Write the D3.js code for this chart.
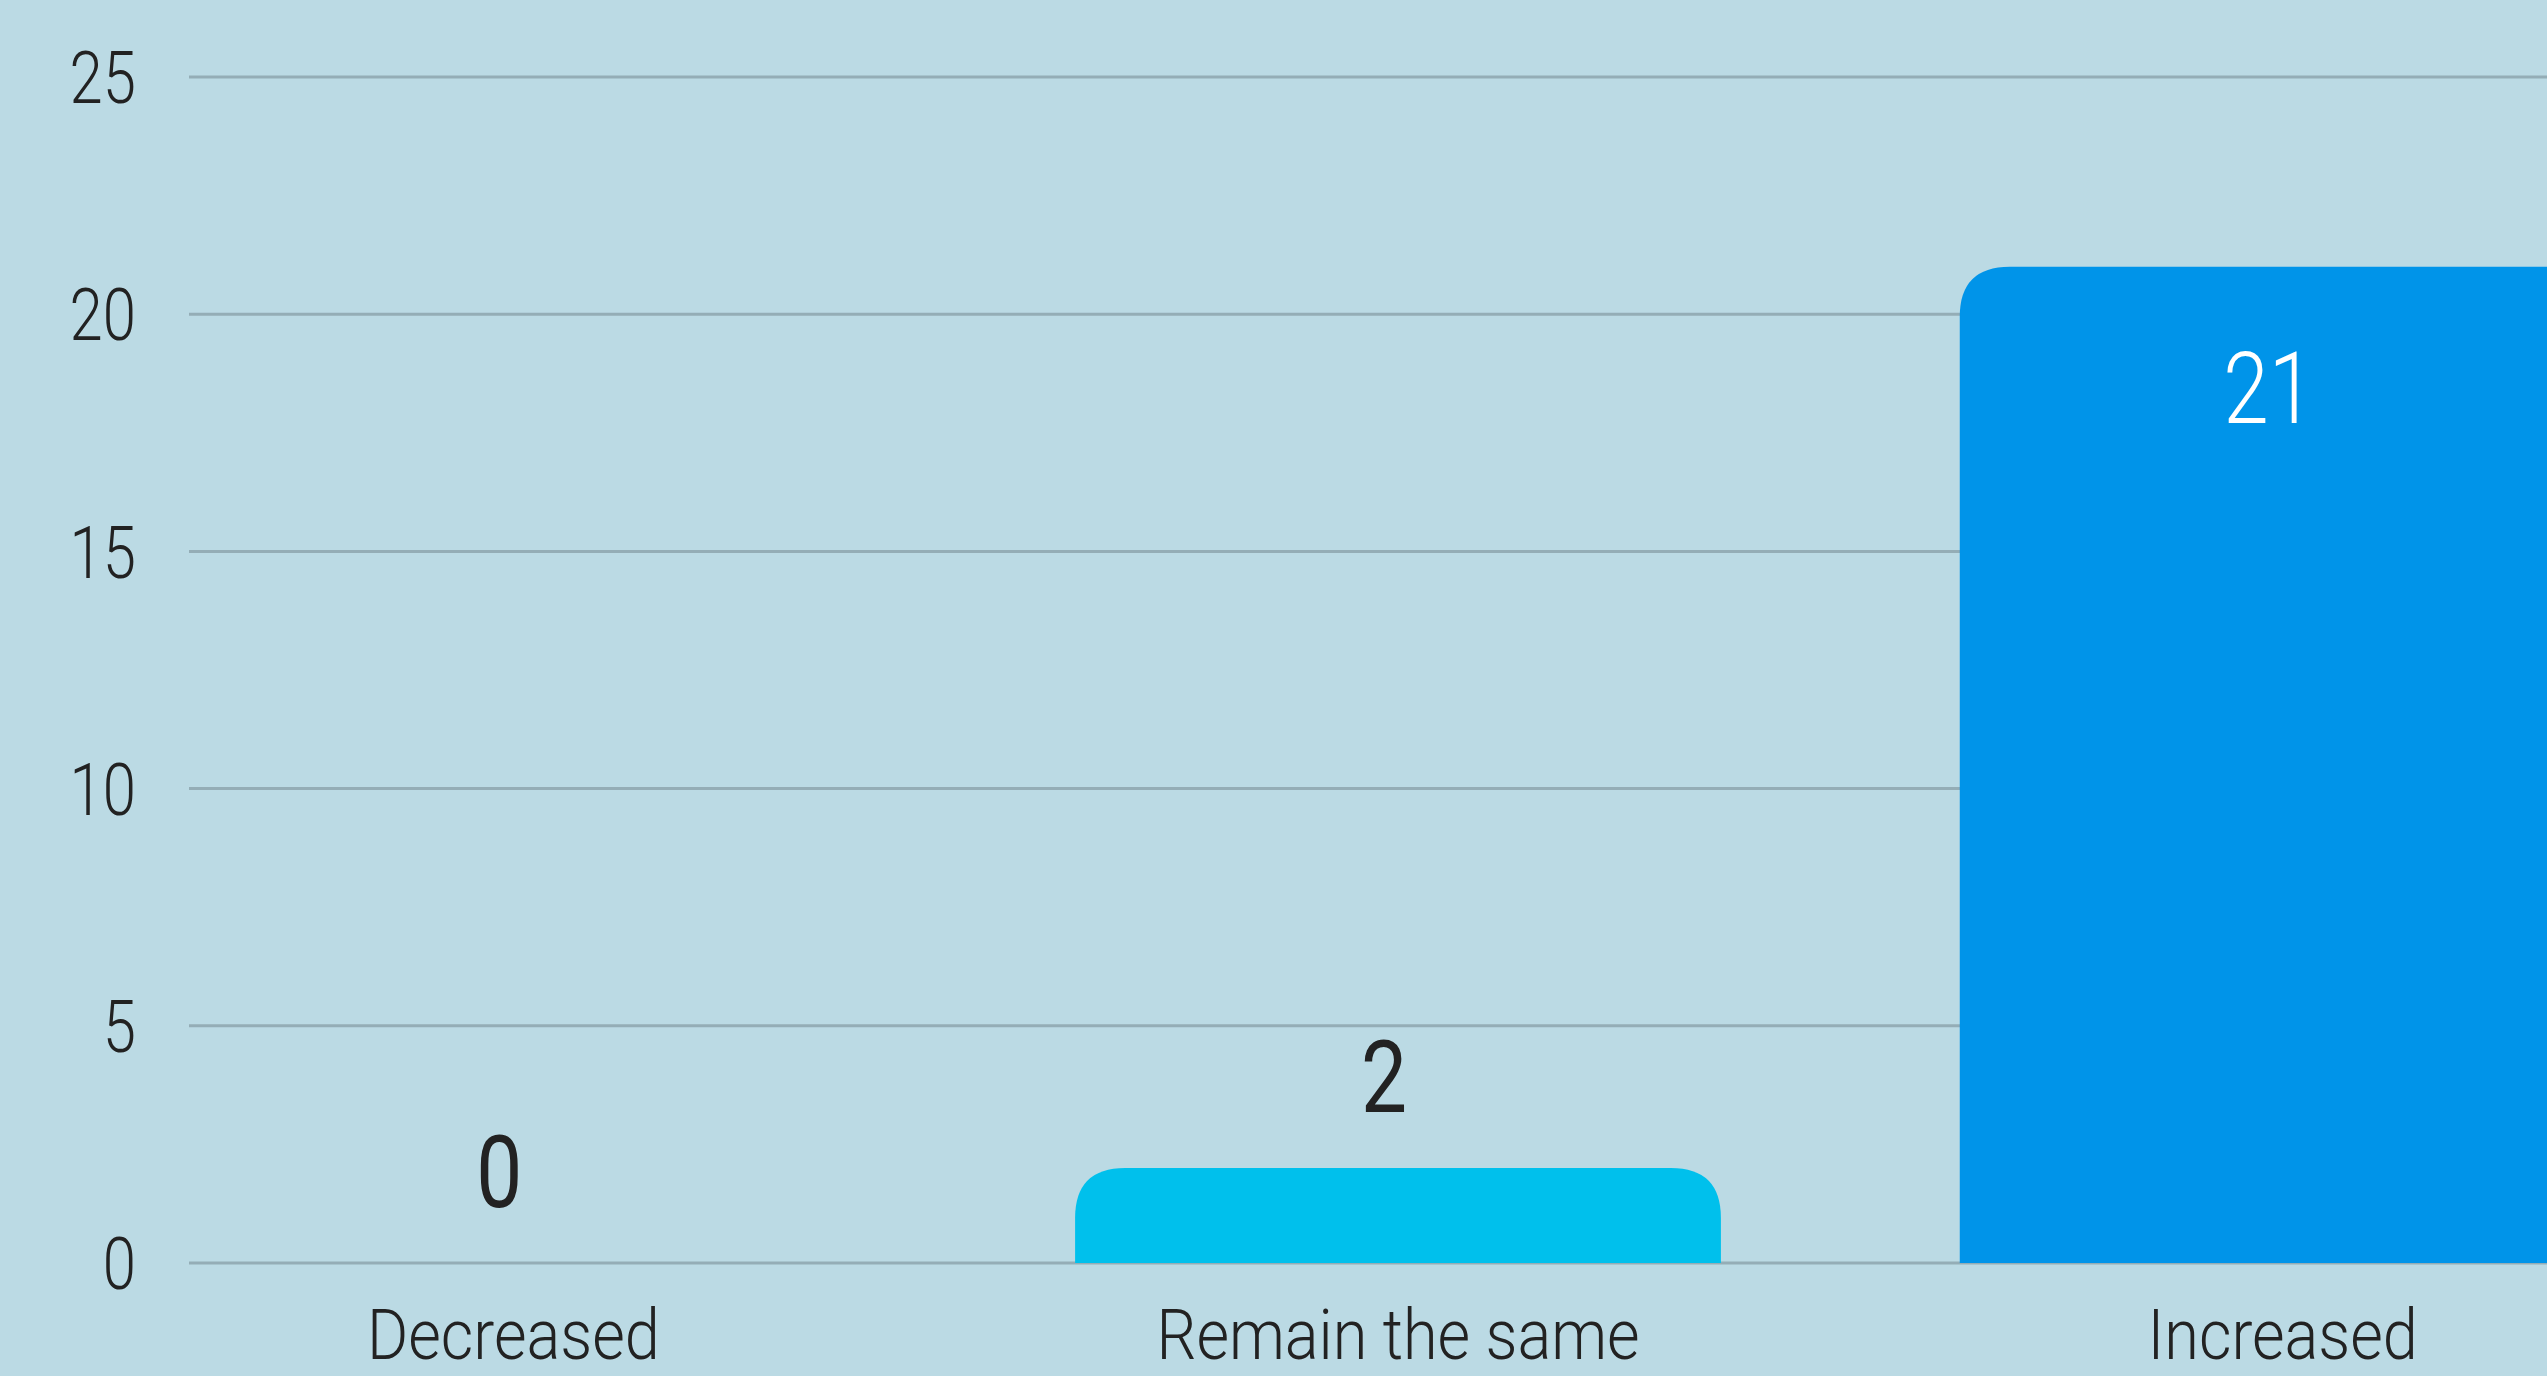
<!DOCTYPE html>
<html>
<head>
<meta charset="utf-8">
<script src="https://cdn.jsdelivr.net/npm/d3@7"></script>
<style>
  html, body { margin: 0; padding: 0; background: #bbdae4; overflow: hidden; }
  svg { display: block; }
  text { font-family: Roboto, "Noto Sans", sans-serif; }
</style>
</head>
<body>
<div id="chart"></div>
<script>
// data
const categories = ["Decreased", "Remain the same", "Increased"];
const counts = [0, 2, 21];
const barColors = ["#00c0ec", "#00c0ec", "#0094e9"];
const yTicks = [0, 5, 10, 15, 20, 25];

const width = 2547;
const height = 1376;
const squeeze = 0.82; // the original font is a narrow DIN-like face

const svg = d3.select("#chart")
    .append("svg")
    .attr("width", width)
    .attr("height", height);

svg.append("rect")
    .attr("width", width)
    .attr("height", height)
    .attr("fill", "#bbdae4");

// scales -- the plot runs past the right edge, like the original
const x = d3.scaleBand()
    .domain(categories)
    .range([71, 2725])
    .paddingInner(0.27)
    .paddingOuter(0.135);

const y = d3.scaleLinear()
    .domain([0, 25])
    .range([1263, 77]);

// gridlines
svg.append("g")
    .selectAll("line")
    .data(yTicks)
    .join("line")
    .attr("x1", 189)
    .attr("x2", width)
    .attr("y1", d => y(d))
    .attr("y2", d => y(d))
    .attr("stroke", "#94adb6")
    .attr("stroke-width", 3);

// y tick labels
svg.append("g")
    .selectAll("text")
    .data(yTicks)
    .join("text")
    .attr("transform", d => `translate(136,${y(d)}) scale(${squeeze},1)`)
    .attr("dy", "0.36em")
    .attr("text-anchor", "end")
    .attr("font-size", 73)
    .attr("font-weight", 300)
    .attr("fill", "#222")
    .text(d => d);

// bars with rounded top corners
const r = 50;
function barPath(d, i) {
    const x0 = x(categories[i]);
    const x1 = x0 + x.bandwidth();
    const yb = y(0);
    const yt = y(d);
    const h = yb - yt;
    if (h <= 0) return "";
    const rr = Math.min(r, h, x.bandwidth() / 2);
    return `M${x0},${yb} L${x0},${yt + rr} Q${x0},${yt} ${x0 + rr},${yt} ` +
        `L${x1 - rr},${yt} Q${x1},${yt} ${x1},${yt + rr} L${x1},${yb} Z`;
}

svg.append("g")
    .selectAll("path")
    .data(counts)
    .join("path")
    .attr("d", barPath)
    .attr("fill", (d, i) => barColors[i]);

// value labels: above small bars, inside the tall one
svg.append("g")
    .selectAll("text")
    .data(counts)
    .join("text")
    .attr("transform", (d, i) => {
        const cx = x(categories[i]) + x.bandwidth() / 2 - 14;
        const cy = d > 10 ? y(d) + 156 : y(d) - 56;
        return `translate(${cx},${cy}) scale(${squeeze},1)`;
    })
    .attr("text-anchor", "middle")
    .attr("font-size", 100)
    .attr("font-weight", d => d > 10 ? 300 : 400)
    .attr("fill", d => d > 10 ? "#ffffff" : "#222")
    .text(d => d);

// category labels (kept just clear of the bottom edge)
svg.append("g")
    .selectAll("text")
    .data(categories)
    .join("text")
    .attr("transform", d => `translate(${x(d) + x.bandwidth() / 2},1359) scale(0.9,1)`)
    .attr("text-anchor", "middle")
    .attr("font-size", 70)
    .attr("font-weight", 300)
    .attr("fill", "#222")
    .text(d => d);
</script>
</body>
</html>
